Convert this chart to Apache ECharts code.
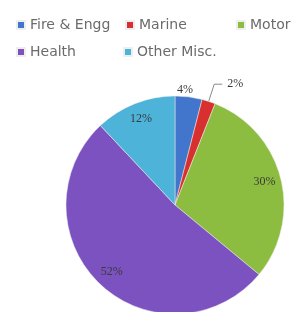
<!DOCTYPE html>
<html>
<head>
<meta charset="utf-8">
<script src="https://cdn.jsdelivr.net/npm/echarts@6/dist/echarts.min.js"></script>
<style>
  html, body { margin: 0; padding: 0; background: #fff; }
  #chart { width: 291px; height: 312px; }
</style>
</head>
<body>
<div id="chart"></div>
<script>
const categories = ['Fire & Engg', 'Marine', 'Motor', 'Health', 'Other Misc.'];
const shares = [4, 2, 30, 52, 12];
const colors = ['#4276cc', '#d8302f', '#8cbd40', '#7b52c0', '#4db3d9'];
const outsideLabels = ['Fire & Engg', 'Marine'];

// where each legend entry sits (left, top)
const legendSpots = [[16, 18], [125, 18], [236, 18], [16, 45], [123, 45]];

const chart = echarts.init(document.getElementById('chart'));

const legends = categories.map((name, i) => ({
  data: [name],
  left: legendSpots[i][0],
  top: legendSpots[i][1],
  padding: 0,
  itemWidth: 8,
  itemHeight: 8,
  icon: 'rect',
  textStyle: { fontFamily: 'DejaVu Sans', fontSize: 14, color: '#6b6b6b' }
}));

const center = [175, 205];
const R = 109;

// main pie: slices plus the two small outside labels
const mainData = categories.map((name, i) => ({
  name: name,
  value: shares[i],
  itemStyle: { color: colors[i] },
  label: { show: outsideLabels.includes(name) },
  labelLine: name === 'Marine'
    ? { show: true, length: 18, length2: 8 }
    : { show: false, length: 3, length2: 0 }
}));

// transparent ring on top, used only to put the big labels near the rim
const ringData = categories.map((name, i) => ({
  name: name,
  value: shares[i],
  label: { show: !outsideLabels.includes(name) }
}));

const labelText = {
  formatter: '{c}%',
  fontFamily: 'Liberation Serif',
  fontSize: 12,
  color: '#3a3a3a'
};

chart.setOption({
  animation: false,
  legend: legends,
  series: [
    {
      type: 'pie',
      center: center,
      radius: R,
      startAngle: 90,
      clockwise: true,
      avoidLabelOverlap: false,
      itemStyle: { borderColor: '#eeeeee', borderWidth: 0.5 },
      label: Object.assign({ position: 'outside' }, labelText),
      labelLine: { lineStyle: { color: '#8a8a8a', width: 1 } },
      // the 4% label sits centred over its slice in the original
      labelLayout: function (p) {
        if (p.dataIndex === 0) return { dx: -17, dy: -4 };
      },
      data: mainData
    },
    {
      type: 'pie',
      silent: true,
      center: center,
      radius: [R * 0.64, R],
      startAngle: 90,
      clockwise: true,
      itemStyle: { color: 'rgba(0,0,0,0)' },
      label: Object.assign({ position: 'inside' }, labelText),
      labelLine: { show: false },
      data: ringData
    }
  ]
});
</script>
</body>
</html>
